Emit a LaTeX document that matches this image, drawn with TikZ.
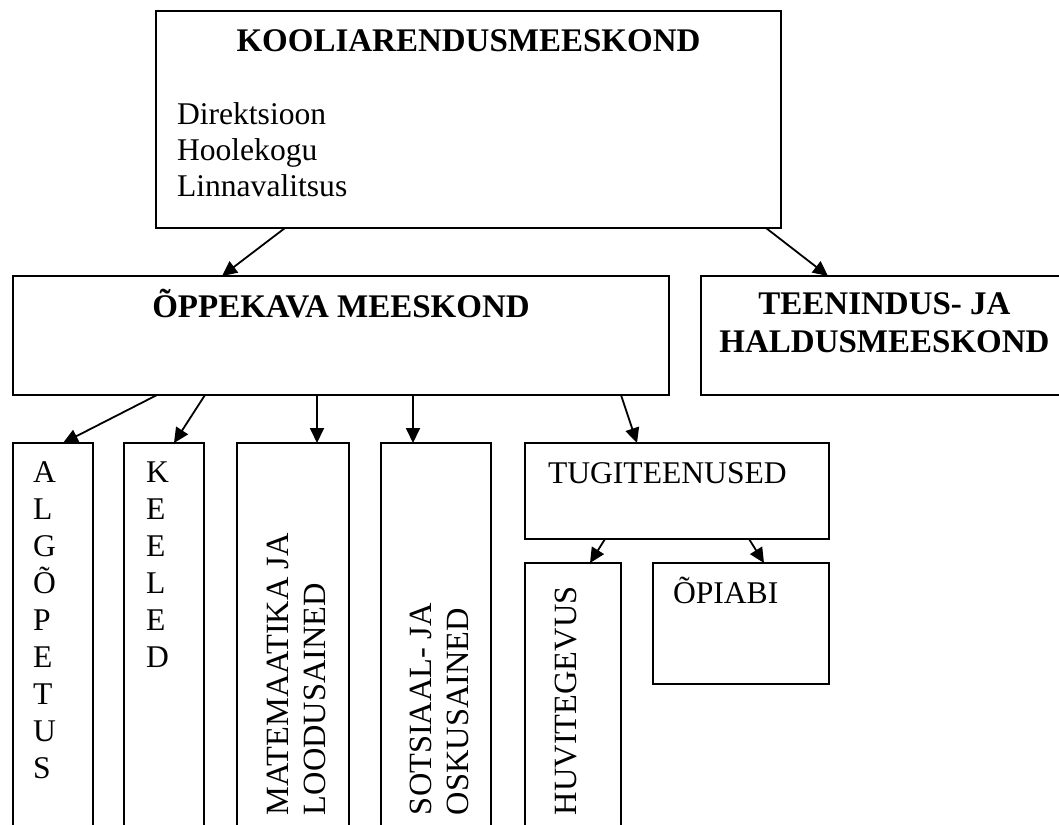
\documentclass[tikz,border=0pt]{standalone}
\usepackage{fontspec}
\setmainfont{Liberation Serif}
\usetikzlibrary{arrows.meta,calc}
\tikzset{
  box/.style={draw=black, line width=1.8pt, rectangle, inner sep=0pt, outer sep=0pt, anchor=north west, fill=white},
  txt/.style={inner sep=0pt, outer sep=0pt, font=\fontsize{31.6}{36.9}\selectfont},
  vtxt/.style={inner sep=0pt, outer sep=0pt, rotate=90, anchor=north west, align=left, font=\fontsize{32.4}{37}\selectfont},
  ttl/.style={inner sep=0pt, outer sep=0pt, font=\fontsize{33}{38}\selectfont\bfseries},
  conn/.style={line width=1.8pt, -{Triangle[length=15pt,width=14pt]}}
}
\begin{document}
\begin{tikzpicture}[x=1pt,y=-1pt]
\useasboundingbox (0,0) rectangle (1059,824);
\fill[white] (0,0) rectangle (1059,824);
\clip (0,0) rectangle (1059,824);
% boxes
\node[box, minimum width=625pt, minimum height=217pt] (top) at (156,11) {};
\node[box, minimum width=656pt, minimum height=119pt] (opp) at (13,276) {};
\node[box, minimum width=367pt, minimum height=119pt] (ten) at (701,276) {};
\node[box, minimum width=80pt, minimum height=460pt] (alg) at (13,443) {};
\node[box, minimum width=80pt, minimum height=460pt] (kee) at (124,443) {};
\node[box, minimum width=112pt, minimum height=460pt] (mat) at (237,443) {};
\node[box, minimum width=110pt, minimum height=460pt] (sot) at (381,443) {};
\node[box, minimum width=304pt, minimum height=96pt] (tug) at (525,443) {};
\node[box, minimum width=96pt, minimum height=340pt] (huv) at (525,563) {};
\node[box, minimum width=176pt, minimum height=121pt] (opi) at (653,563) {};
% texts
\node[ttl, anchor=base] (ttop) at (468.5,52) {KOOLIARENDUSMEESKOND};
\node[txt, font=\fontsize{31.6}{36}\selectfont, anchor=north west, align=left] (tlist) at (177,102.4) {Direktsioon\\Hoolekogu\\Linnavalitsus};
\node[ttl, anchor=base] (topp) at (341,317) {ÕPPEKAVA MEESKOND};
\node[ttl, anchor=north, align=center] (tten) at (884.5,292.7) {TEENINDUS- JA\\HALDUSMEESKOND};
\node[txt, anchor=north west, align=left] (talg) at (33,462.1) {A\\L\\G\\Õ\\P\\E\\T\\U\\S};
\node[txt, anchor=north west, align=left] (tkee) at (146,462.1) {K\\E\\E\\L\\E\\D};
\node[vtxt] (tmat) at (267,815) {MATEMAATIKA JA\\LOODUSAINED};
\node[vtxt] (tsot) at (410,815) {SOTSIAAL- JA\\OSKUSAINED};
\node[vtxt] (thuv) at (555,815) {HUVITEGEVUS};
\node[txt, anchor=base west] (ttug) at (548,483) {TUGITEENUSED};
\node[txt, anchor=base west] (topi) at (673,603) {ÕPIABI};
% connectors
\draw[conn] ($(top.south west)+(129,0)$) -- ($(opp.north west)+(209,0)$);
\draw[conn] ($(top.south west)+(610,0)$) -- ($(ten.north west)+(127,0)$);
\draw[conn] ($(opp.south west)+(144,0)$) -- ($(alg.north west)+(50,0)$);
\draw[conn] ($(opp.south west)+(192,0)$) -- ($(kee.north west)+(50,0)$);
\draw[conn] ($(opp.south west)+(304,0)$) -- ($(mat.north west)+(80,0)$);
\draw[conn] ($(opp.south west)+(400,0)$) -- ($(sot.north west)+(32,0)$);
\draw[conn] ($(opp.south west)+(608,0)$) -- ($(tug.north west)+(112,0)$);
\draw[conn] ($(tug.south west)+(80,0)$) -- ($(huv.north west)+(65,0)$);
\draw[conn] ($(tug.south west)+(224,0)$) -- ($(opi.north west)+(111,0)$);
\end{tikzpicture}
\end{document}
